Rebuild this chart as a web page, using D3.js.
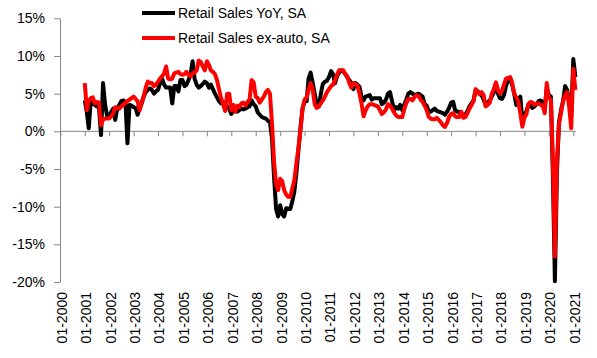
<!DOCTYPE html>
<html><head><meta charset="utf-8">
<script src="https://cdn.jsdelivr.net/npm/d3@7"></script>
<style>
body{margin:0;background:#fff;}
svg{display:block;font-family:"Liberation Sans",Arial,sans-serif;}
</style>
</head><body>
<svg id="chart" width="597" height="358"></svg>
<script>
// ---- data (monthly, YoY %, starting Jan 2001) ----
const firstMonth = "01-2001";
const seriesNames = ["Retail Sales YoY, SA", "Retail Sales ex-auto, SA"];
const seriesColors = ["#000000", "#ff0000"];
const retailYoY = [
  4.1, 2.5, 0.4, 4.1, 3.7, 3.5, 3.3, 3.2, -0.5, 6.4, 3.5, 2.0,
  1.9, 2.6, 3.0, 1.5, 3.0, 3.5, 4.0, 4.1, 3.9, -1.6, 3.5, 3.4,
  3.2, 3.1, 2.2, 3.0, 3.7, 4.6, 5.2, 5.5, 5.7, 5.5, 5.0, 5.3,
  5.5, 6.4, 7.0, 6.2, 5.8, 5.8, 5.8, 3.7, 6.0, 6.0, 5.3, 6.8,
  6.8, 6.0, 6.2, 6.8, 7.5, 9.3, 7.0, 6.2, 5.8, 6.0, 6.3, 6.6,
  6.4, 5.8, 6.2, 5.6, 5.0, 4.5, 4.0, 3.7, 3.9, 3.6, 3.3, 3.0,
  2.3, 2.8, 2.7, 2.6, 2.8, 3.0, 2.9, 3.0, 3.2, 3.3, 4.1, 3.6,
  3.3, 2.5, 2.2, 1.9, 1.8, 1.7, 1.4, 1.2, -1.0, -6.0, -10.3, -11.3,
  -9.8, -11.0, -11.3, -10.2, -10.3, -10.3, -9.3, -8.0, -5.5, -2.5, 0.5, 3.0,
  4.0, 4.0, 7.0, 7.8, 6.5, 5.0, 3.5, 3.3, 5.0, 6.3, 6.6, 6.7,
  7.2, 8.0, 7.6, 6.4, 7.3, 7.8, 8.1, 8.0, 7.6, 7.2, 6.8, 6.4,
  5.6, 6.4, 6.2, 5.9, 4.6, 4.1, 4.6, 4.7, 4.8, 4.2, 4.4, 4.4,
  4.4, 4.4, 3.6, 3.8, 4.2, 5.0, 5.2, 4.0, 2.8, 3.2, 3.0, 3.5,
  2.8, 3.6, 4.2, 5.0, 5.2, 5.0, 4.8, 4.9, 5.0, 4.8, 4.6, 3.6,
  3.4, 2.6, 2.6, 2.8, 3.0, 2.7, 2.6, 2.5, 2.4, 2.2, 2.6, 3.1,
  3.8, 3.9, 2.8, 2.6, 2.6, 2.3, 2.2, 2.2, 2.7, 3.3, 3.7, 4.1,
  5.4, 5.3, 5.1, 4.8, 4.2, 3.5, 3.8, 4.1, 4.6, 5.2, 6.3, 5.0,
  4.4, 4.3, 4.8, 6.0, 6.8, 6.9, 6.2, 5.0, 3.5, 4.2, 4.6, 1.3,
  2.2, 2.7, 3.5, 3.6, 3.1, 3.3, 3.6, 4.0, 4.1, 3.8, 3.0, 5.8,
  4.8, 4.6, -5.7, -19.9, -5.5, 1.2, 2.8, 4.0, 6.0, 5.5, 4.0, 2.0,
  9.6, 7.2
];
const retailExAuto = [
  6.4, 2.8, 4.0, 4.4, 4.5, 3.7, 3.9, 3.8, 0.8, 1.6, 1.7, 1.7,
  1.7, 2.0, 2.4, 3.2, 3.1, 3.0, 3.3, 3.5, 3.8, 4.0, 4.2, 4.4,
  4.6, 4.3, 4.0, 2.8, 3.8, 4.6, 5.8, 6.6, 6.4, 6.4, 6.0, 6.2,
  6.6, 7.0, 7.3, 7.7, 8.6, 7.0, 6.9, 7.0, 7.7, 7.8, 7.9, 7.6,
  7.5, 7.6, 7.9, 7.5, 7.3, 7.7, 7.8, 8.1, 9.4, 9.2, 8.6, 8.1,
  9.3, 8.8, 8.1, 7.9, 7.6, 6.8, 5.6, 4.4, 3.6, 2.7, 5.0, 5.0,
  2.8, 3.5, 2.6, 3.4, 3.2, 3.7, 3.8, 3.4, 3.9, 4.2, 6.8, 6.5,
  4.6, 4.4, 3.8, 4.2, 4.6, 5.2, 5.5, 5.0, 1.0, -4.0, -7.0, -7.8,
  -6.3, -6.6, -7.8, -8.4, -8.7, -8.7, -7.6, -6.5, -4.2, -2.2, 0.2, 3.0,
  4.2, 4.5, 5.5, 6.4, 5.6, 3.6, 3.1, 3.3, 3.7, 4.1, 4.6, 5.2,
  5.6, 6.0, 6.2, 6.8, 7.5, 8.1, 8.1, 8.1, 7.6, 7.3, 6.4, 5.8,
  6.4, 6.2, 6.1, 5.0, 3.7, 2.0, 2.8, 3.3, 3.6, 3.6, 3.5, 3.4,
  3.3, 2.8, 2.3, 2.5, 2.9, 3.6, 3.4, 3.0, 2.5, 2.1, 1.9, 1.9,
  1.9, 3.0, 3.7, 4.3, 4.3, 4.1, 4.5, 4.8, 4.7, 4.2, 3.9, 3.4,
  2.8, 1.9, 1.7, 1.6, 1.6, 1.8, 1.5, 1.2, 0.8, 0.6, 1.1, 1.9,
  2.3, 2.4, 2.0, 1.9, 1.9, 2.6, 1.8, 1.9, 2.4, 3.0, 3.5, 4.0,
  5.6, 5.3, 4.9, 5.2, 4.8, 3.3, 3.5, 3.8, 5.0, 5.6, 6.5, 5.5,
  5.0, 5.4, 6.2, 7.0, 7.1, 7.2, 6.5, 5.0, 4.5, 4.0, 2.4, 0.6,
  1.8, 2.3, 3.6, 3.9, 3.8, 3.5, 3.7, 3.7, 3.5, 3.4, 2.4, 6.4,
  4.4, 4.2, -3.5, -16.6, -4.0, 1.0, 2.4, 4.0, 4.8, 5.2, 3.2, 0.4,
  8.3, 5.5
];
const yTickValues = [-20, -15, -10, -5, 0, 5, 10, 15];
const xTickLabels = ["01-2000","01-2001","01-2002","01-2003","01-2004","01-2005","01-2006",
  "01-2007","01-2008","01-2009","01-2010","01-2011","01-2012","01-2013","01-2014",
  "01-2015","01-2016","01-2017","01-2018","01-2019","01-2020","01-2021"];

// ---- chart ----
const svg = d3.select("#chart");
const parse = d3.timeParse("%m-%Y");
const start = parse(firstMonth);
const axisColor = "#868686";

const x = d3.scaleTime()
  .domain([parse(xTickLabels[0]), parse(xTickLabels[xTickLabels.length - 1])])
  .range([60.3, 573.3]);
const y = d3.scaleLinear().domain([-20, 15]).range([282, 18.3]);

// y axis
const yAxis = svg.append("g").attr("transform", "translate(60,0)")
  .call(d3.axisLeft(y).tickValues(yTickValues).tickFormat(d => d + "%")
    .tickSize(6).tickSizeOuter(0).tickPadding(9));
yAxis.select(".domain").attr("stroke", axisColor);
yAxis.selectAll(".tick line").attr("stroke", axisColor);
yAxis.selectAll(".tick text").attr("fill", "#000").style("font-size", "14px")
  .style("font-family", '"Liberation Sans",Arial,sans-serif');

// x axis (at zero line) with ticks
const y0 = y(0);
const xEnd = x(d3.timeDay.offset(d3.timeMonth.offset(start, retailYoY.length - 1), 10));
const xAxis = svg.append("g").attr("transform", `translate(0,${y0})`)
  .call(d3.axisBottom(x).tickValues(xTickLabels.map(parse)).tickFormat("")
    .tickSize(5).tickSizeOuter(0));
xAxis.select(".domain").remove();
xAxis.selectAll(".tick line").attr("stroke", axisColor);
svg.append("line").attr("x1", 60).attr("x2", xEnd).attr("y1", y0).attr("y2", y0)
  .attr("stroke", axisColor).attr("stroke-width", 1);

// x tick labels at bottom, rotated
svg.append("g").selectAll("text").data(xTickLabels).join("text")
  .attr("transform", d => `translate(${x(parse(d)) + 1.5},292) rotate(-90)`)
  .attr("text-anchor", "end").attr("dy", "0.35em")
  .style("font-size", "14px").attr("fill", "#000")
  .text(d => d);

// lines
const line = d3.line()
  .x((d, i) => x(d3.timeMonth.offset(start, i)))
  .y(d => y(d))
  .curve(d3.curveLinear);
[retailYoY, retailExAuto].forEach((s, k) => {
  svg.append("path").datum(s)
    .attr("fill", "none").attr("stroke", seriesColors[k])
    .attr("stroke-width", 4).attr("stroke-linejoin", "round").attr("stroke-linecap", "butt")
    .attr("d", line);
});

// legend
const legendY = [13, 38];
seriesNames.forEach((name, k) => {
  svg.append("line").attr("x1", 142).attr("x2", 175)
    .attr("y1", legendY[k]).attr("y2", legendY[k])
    .attr("stroke", seriesColors[k]).attr("stroke-width", 4);
  svg.append("text").attr("x", 178).attr("y", legendY[k]).attr("dy", "0.35em")
    .style("font-size", "14px").attr("fill", "#000").text(name);
});
</script>
</body></html>
